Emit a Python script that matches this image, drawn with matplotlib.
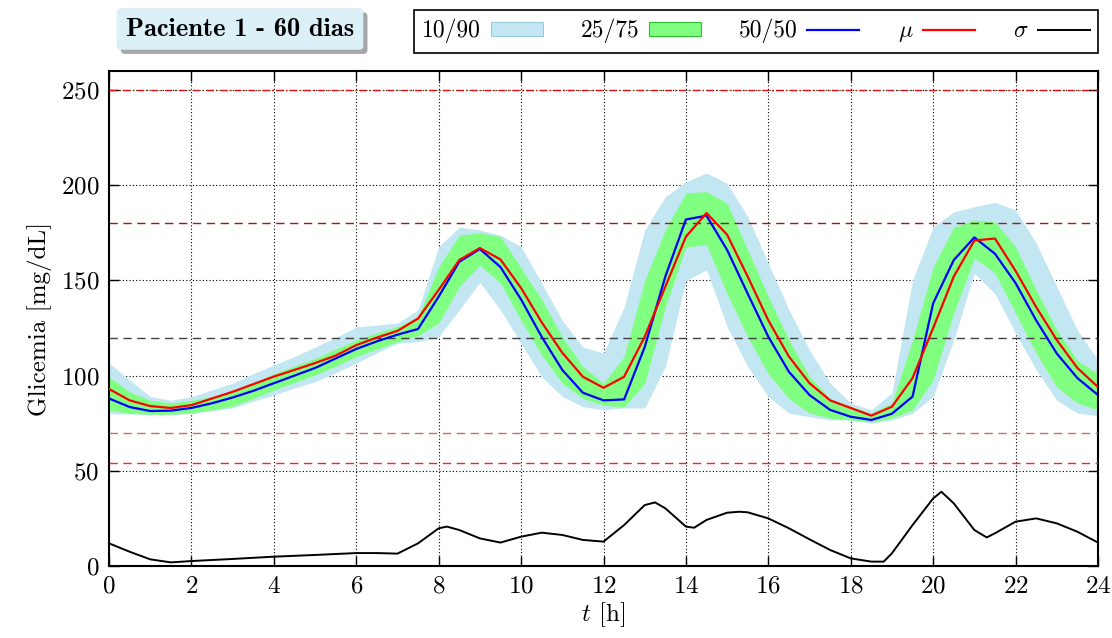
import matplotlib
matplotlib.use("Agg")
import matplotlib.pyplot as plt
import matplotlib.patheffects as pe
from matplotlib.patches import Patch
from matplotlib.lines import Line2D

plt.rcParams['font.family'] = 'serif'
plt.rcParams['font.serif'] = ['cmr10']
plt.rcParams['mathtext.fontset'] = 'cm'
plt.rcParams['axes.formatter.use_mathtext'] = True
plt.rcParams['font.size'] = 18

# time grid [h]
t = [0, 0.5, 1, 1.5, 2, 2.5, 3, 3.5, 4, 4.5, 5, 5.5, 6, 6.5, 7, 7.5, 8, 8.5,
     9, 9.5, 10, 10.5, 11, 11.5, 12, 12.5, 13, 13.5, 14, 14.5, 15, 15.5, 16,
     16.5, 17, 17.5, 18, 18.5, 19, 19.5, 20, 20.5, 21, 21.5, 22, 22.5, 23,
     23.5, 24]

p10 = [80, 79.8, 79.5, 79.5, 80, 81.5, 83, 86.5, 89.8, 93.5, 96.8, 101.5,
       106.6, 112, 117, 117.8, 120.4, 134.5, 149, 134.5, 117, 99.4, 89, 83.7,
       82, 83, 83, 104.7, 150, 155.5, 125.7, 104.7, 89, 80.3, 78.4, 76.7,
       76.7, 75, 76.7, 80.3, 89, 118.7, 153.9, 143, 122.4, 103, 87, 80.3, 79]
p90 = [106.6, 97.7, 89, 87, 89, 92.5, 96, 101, 105.6, 110, 115, 120, 125.5,
       126.5, 127.6, 134.5, 167.7, 178, 176.5, 173.8, 167.7, 148.6, 129, 115,
       111.8, 136, 176.5, 194, 201.8, 206.4, 201, 183.5, 159, 134.5, 113.4,
       96, 85.6, 82, 91, 150, 178, 186, 188.7, 191, 187, 169.6, 146.7, 124,
       108]
p25 = [82, 80.2, 79.7, 79.7, 80.5, 82, 84, 88, 92.4, 96.5, 100.3, 105, 110,
       114, 117.8, 121, 127.6, 146.7, 158, 148.6, 129, 110.8, 96, 88, 84.5,
       83.5, 96, 136, 167.7, 168.6, 143, 120.4, 101, 88, 80.3, 77.7, 76.7,
       75.8, 77.7, 82, 97.7, 132.8, 161.8, 153.9, 132.8, 111.8, 94, 85.6, 82]
p75 = [99.4, 91.5, 87, 85.6, 87, 89, 91.5, 96, 101, 105, 109, 114, 118.7,
       122.5, 125.7, 131, 157, 173.8, 175, 173, 156.5, 140, 120.4, 104.7, 96,
       110, 150, 176.5, 196, 196.6, 190.6, 166, 141.5, 118.7, 99.4, 88, 83.7,
       80.3, 85.6, 118.7, 157, 178, 181.7, 180.8, 167.7, 145, 124, 108, 101]
p50 = [88, 83.5, 81.4, 81.6, 83, 85.5, 88.5, 92, 96, 100, 104, 109, 114, 118,
       121.5, 124.5, 141.5, 159.8, 166.5, 157, 140, 120.4, 103, 91, 87, 87.5,
       115, 152, 182, 184, 166, 143, 120.4, 102, 89.8, 82, 78.4, 76.7, 80, 89,
       138, 160.7, 172.6, 164, 148.6, 129, 111.6, 98.7, 89.8]
mu = [93, 87, 84, 83, 84.5, 88, 91.5, 95.5, 99.5, 103, 106.6, 110.5, 116, 120,
      123.5, 130, 145, 160.7, 167, 161, 146, 128, 112, 99.4, 93.6, 99.4, 120.4,
      146.7, 173, 185.4, 174, 152, 129, 110, 96, 87, 83, 79, 83.7, 98.7, 125,
      152, 171, 172, 155, 136, 118.7, 104, 94]

t_sig = [0, 0.5, 1, 1.5, 2, 3, 4, 5, 6, 6.5, 7, 7.5, 8, 8.2, 8.5, 9, 9.5, 10,
         10.5, 11, 11.5, 12, 12.5, 13, 13.25, 13.5, 14, 14.2, 14.5, 15, 15.3,
         15.5, 16, 16.5, 17, 17.5, 18, 18.5, 18.8, 19, 19.5, 20, 20.2, 20.5,
         21, 21.3, 21.5, 22, 22.5, 23, 23.5, 24]
sigma = [11.9, 7.5, 3.5, 1.9, 2.6, 3.7, 4.9, 5.8, 6.8, 6.8, 6.5, 11.9, 19.8,
         20.7, 18.9, 14.5, 12.3, 15.4, 17.5, 16.3, 13.7, 12.8, 21.5, 32, 33.4,
         30.3, 20.7, 20.1, 24.2, 28, 28.5, 28.2, 25, 19.8, 14, 8.4, 4, 2.3, 2.3,
         6.7, 21.5, 35.5, 39, 32.9, 18.9, 15, 17.2, 23.3, 25, 22.4, 18, 12.3]

# reference levels [mg/dL]
ref_levels = [250, 180, 120, 70, 54]
ref_colors = ['#e01010', '#a01818', '#404040', '#c07070', '#ff2020']
ref_styles = [(0, (5, 2, 1, 2)), (0, (6, 4)), (0, (6, 4)), (0, (6, 4)), (0, (6, 4))]

c_out = '#c3e6f3'
c_in = '#80ff80'

fig = plt.figure(figsize=(11.12, 6.38), dpi=100)
ax = fig.add_axes([109 / 1112, 1 - 566 / 638, 989 / 1112, 495 / 638])

ax.fill_between(t, p10, p90, color=c_out, lw=0, zorder=1)
ax.fill_between(t, p25, p75, color=c_in, lw=0, zorder=2)
for lev, col, ls in zip(ref_levels, ref_colors, ref_styles):
    ax.axhline(lev, color=col, ls=ls, lw=1, zorder=3)
ax.plot(t, p50, color='#0000ff', lw=1.6, zorder=4)
ax.plot(t, mu, color='#ff0000', lw=1.6, zorder=5)
ax.plot(t_sig, sigma, color='black', lw=1.4, zorder=5)

ax.set_xlim(0, 24)
ax.set_ylim(0, 260)
ax.set_xticks(range(0, 25, 2))
ax.set_yticks(range(0, 251, 50))
ax.grid(True, color='black', ls=(0, (1, 2)), lw=0.8)
ax.set_axisbelow(True)
ax.tick_params(direction='in', length=7, width=1, top=True, right=True, pad=7)
for s in ax.spines.values():
    s.set_linewidth(1.5)
ax.set_xlabel('$t$ [h]', labelpad=2)
ax.set_ylabel('Glicemia [mg/dL]', labelpad=6)

# title box with drop shadow
title = fig.text(240 / 1112, 1 - 29 / 638, 'Paciente 1 - 60 dias', family='cmb10',
                 fontsize=19, ha='center', va='center',
                 bbox=dict(boxstyle='round,pad=0.35,rounding_size=0.15',
                           fc='#dcf0f8', ec='none'))
title.get_bbox_patch().set_path_effects(
    [pe.SimplePatchShadow(offset=(3, -3), shadow_rgbFace='#909090', alpha=0.8), pe.Normal()])

handles = [Patch(fc=c_out, ec='#9cc8dc', lw=0.8),
           Patch(fc=c_in, ec='#30c030', lw=0.8),
           Line2D([], [], color='#0000ff', lw=1.6),
           Line2D([], [], color='#ff0000', lw=1.6),
           Line2D([], [], color='black', lw=1.4)]
labels = ['10/90', '25/75', '50/50', r'$\mu$', r'$\sigma$']
leg = fig.legend(handles, labels, ncol=5, mode='expand', markerfirst=False,
                 loc='center', bbox_to_anchor=(414 / 1112, 1 - 53 / 638, 684 / 1112, 43 / 638),
                 fancybox=False, edgecolor='black', framealpha=1, borderaxespad=0,
                 handlelength=2.2, handleheight=0.5, handletextpad=0.4,
                 fontsize=17, borderpad=0.35)
leg.get_frame().set_linewidth(1.2)

fig.savefig('out.png', dpi=100)
